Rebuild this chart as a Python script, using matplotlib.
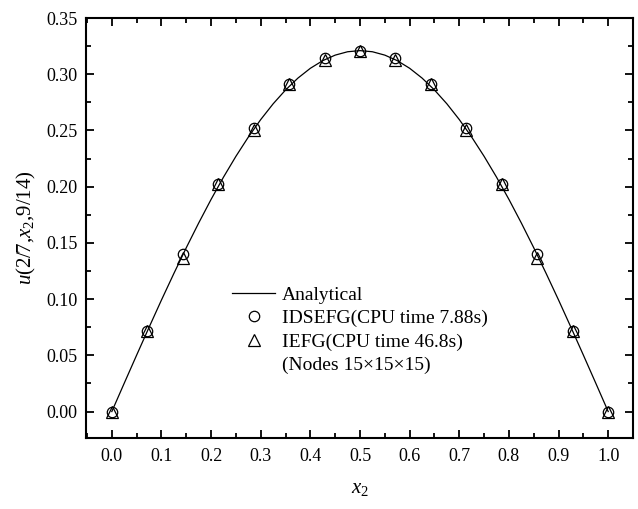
import matplotlib
matplotlib.use("Agg")
import matplotlib.pyplot as plt
from matplotlib.lines import Line2D
from matplotlib.ticker import MultipleLocator
import numpy as np

plt.rcParams['font.family'] = ['Liberation Serif', 'DejaVu Serif']
plt.rcParams['mathtext.fontset'] = 'custom'
plt.rcParams['mathtext.rm'] = 'Liberation Serif'
plt.rcParams['mathtext.it'] = 'Liberation Serif:italic'

# analytical curve
x_exact = np.arange(41) * 0.025
u_exact = [0.0000, 0.0252, 0.0502, 0.0749, 0.0992, 0.1228, 0.1457, 0.1677,
           0.1887, 0.2085, 0.2270, 0.2441, 0.2597, 0.2737, 0.2860, 0.2966,
           0.3053, 0.3121, 0.3170, 0.3200, 0.3210, 0.3200, 0.3170, 0.3121,
           0.3053, 0.2966, 0.2860, 0.2737, 0.2597, 0.2441, 0.2270, 0.2085,
           0.1887, 0.1677, 0.1457, 0.1228, 0.0992, 0.0749, 0.0502, 0.0252,
           0.0000]

# nodal values
x_nodes = np.arange(15) / 14.0
u_idsefg = [0.000, 0.072, 0.140, 0.202, 0.252, 0.291, 0.314, 0.321,
            0.314, 0.291, 0.252, 0.202, 0.140, 0.072, 0.000]
u_iefg = [0.000, 0.072, 0.137, 0.202, 0.250, 0.291, 0.313, 0.321,
          0.313, 0.291, 0.250, 0.202, 0.137, 0.072, 0.000]

fig = plt.figure(figsize=(6.38, 5.09), dpi=100)
ax = fig.add_axes([0.1348, 0.1395, 0.8574, 0.8251])

ax.plot(x_exact, u_exact, color='black', lw=0.9, label='Analytical')
ax.plot(x_nodes, u_idsefg, ls='none', marker='o', ms=7.5, mfc='none',
        mec='black', mew=0.9, label='IDSEFG(CPU time 7.88s)')
ax.plot(x_nodes, u_iefg, ls='none', marker='^', ms=8.5, mfc='none',
        mec='black', mew=0.9, label='IEFG(CPU time 46.8s)')

handles, labels = ax.get_legend_handles_labels()
handles.append(Line2D([], [], ls='none'))
labels.append('(Nodes 15\u00d715\u00d715)')
ax.legend(handles, labels, loc='upper left', bbox_to_anchor=(0.253, 0.38),
          frameon=False, fontsize=14, handlelength=2.2, handletextpad=0.35,
          labelspacing=0.3, borderaxespad=0)

ax.set_xlim(-0.052, 1.05)
ax.set_ylim(-0.0235, 0.35)
ax.xaxis.set_major_locator(MultipleLocator(0.1))
ax.xaxis.set_minor_locator(MultipleLocator(0.05))
ax.yaxis.set_major_locator(MultipleLocator(0.05))
ax.yaxis.set_minor_locator(MultipleLocator(0.025))
ax.xaxis.set_major_formatter(plt.FormatStrFormatter('%.1f'))
ax.yaxis.set_major_formatter(plt.FormatStrFormatter('%.2f'))

ax.tick_params(which='both', direction='in', top=True, right=True,
               labelsize=13, width=1.3)
ax.tick_params(which='major', length=6)
ax.tick_params(which='minor', length=3.5)
ax.tick_params(axis='x', pad=7)
ax.tick_params(axis='y', pad=6)
for s in ax.spines.values():
    s.set_linewidth(1.5)

ax.set_xlabel(r'$x_2$', fontsize=15, labelpad=10)
ax.set_ylabel(r'$u$(2/7,$x_2$,9/14)', fontsize=15, labelpad=6)

fig.savefig('out.png', dpi=100)
